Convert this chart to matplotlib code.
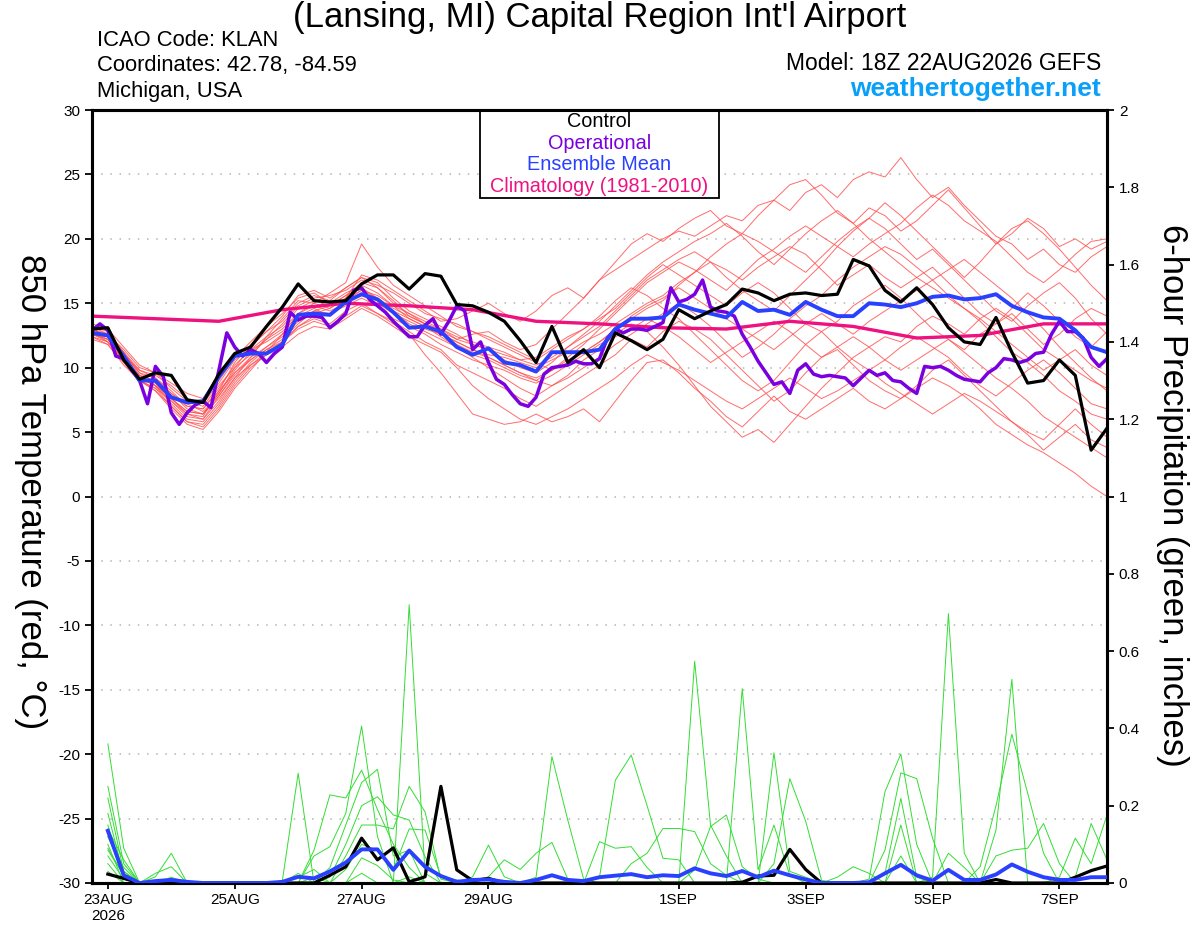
import numpy as np
import matplotlib
matplotlib.use("Agg")
import matplotlib.pyplot as plt
from matplotlib.patches import Rectangle

plt.rcParams['font.family'] = ['Liberation Sans', 'DejaVu Sans']
plt.rcParams['axes.unicode_minus'] = False

# ---- data (6-hourly temps from 22AUG 18Z, precip from 23AUG 00Z) ----
control_t = [13.0, 13.1, 10.6, 9.1, 9.6, 9.4, 7.5, 7.3, 9.5, 11.1, 11.6, 13.2, 14.7,
             16.5, 15.2, 15.1, 15.2, 16.5, 17.2, 17.2, 16.1, 17.3, 17.1, 14.9, 14.8, 14.3,
             13.6, 12.1, 10.4, 13.2, 10.4, 11.4, 10.0, 12.7, 12.1, 11.4, 12.2, 14.5, 13.8,
             14.4, 14.9, 16.1, 15.8, 15.2, 15.7, 15.8, 15.6, 15.7, 18.4, 17.9, 16.0, 15.1,
             16.2, 14.9, 13.1, 12.0, 11.8, 13.9, 11.2, 8.8, 9.0, 10.6, 9.4, 3.6, 5.3]

mean_t = [12.7, 12.5, 10.9, 9.0, 9.0, 7.7, 7.3, 7.4, 9.3, 10.9, 11.1, 11.1, 11.8,
          14.1, 14.2, 14.1, 15.1, 15.7, 15.3, 14.3, 13.1, 13.2, 12.8, 11.6, 11.0, 11.5,
          10.4, 10.2, 9.7, 11.2, 11.2, 11.2, 11.4, 13.0, 13.8, 13.8, 13.9, 14.9, 14.5,
          14.2, 13.9, 15.1, 14.4, 14.5, 14.1, 15.1, 14.5, 14.0, 14.0, 15.0, 14.9, 14.7,
          15.0, 15.5, 15.6, 15.3, 15.4, 15.7, 14.8, 14.3, 13.9, 13.8, 12.9, 11.6, 11.2]

# operational run, 3-hourly
oper_t = [12.9, 13.4, 12.9, 10.9, 10.7, 9.8, 9.0, 7.2, 10.1, 9.3, 6.5, 5.6, 6.5, 7.1, 7.4, 6.9,
          9.8, 12.7, 11.6, 10.9, 11.4, 11.1, 10.4, 11.1, 11.6, 14.3, 13.7, 14.0, 14.0, 13.9, 13.1, 13.6,
          14.2, 16.0, 16.2, 15.3, 14.8, 14.3, 13.6, 13.0, 12.4, 12.4, 13.3, 13.8, 12.6, 13.6, 14.8, 14.4,
          11.4, 12.0, 10.4, 9.1, 8.7, 7.9, 7.2, 7.0, 7.7, 9.5, 10.0, 10.1, 10.2, 10.5, 10.3, 10.3,
          10.7, 12.3, 13.0, 12.7, 13.0, 13.0, 12.9, 13.2, 13.5, 16.2, 15.1, 15.3, 15.7, 16.8, 14.7, 14.4,
          14.3, 14.0, 12.6, 11.6, 10.5, 9.6, 8.7, 8.9, 8.0, 9.8, 10.3, 9.5, 9.3, 9.4, 9.3, 9.2,
          8.6, 9.2, 9.8, 9.4, 9.6, 9.0, 8.9, 8.4, 8.0, 10.1, 10.0, 10.1, 9.8, 9.4, 9.1, 9.0,
          8.9, 9.6, 10.0, 10.7, 10.6, 10.4, 10.6, 11.1, 11.2, 12.6, 13.6, 12.8, 12.8, 12.3, 10.8, 10.1,
          10.7]

# climatology, daily
clim_t = [14.0, 13.8, 13.6, 14.5, 15.0, 14.8, 14.5, 13.6, 13.4, 13.1, 13.0, 13.6,
          13.2, 12.3, 12.5, 13.4, 13.4]

ens_t = [
    [13.0, 12.6, 11.0, 9.6, 9.2, 8.2, 7.0, 6.8, 8.4, 10.2, 11.4, 12.4, 13.2,
     14.6, 15.2, 14.8, 15.6, 16.6, 16.2, 15.2, 14.0, 13.4, 13.0, 12.2, 12.6, 12.8,
     12.0, 11.4, 11.8, 13.0, 14.2, 15.4, 16.8, 17.6, 18.4, 19.2, 20.0, 20.6, 20.2,
     21.0, 21.8, 21.4, 22.6, 23.0, 22.2, 23.6, 24.2, 23.2, 24.6, 25.2, 24.8, 26.3,
     24.6, 23.2, 24.0, 22.6, 21.4, 20.2, 19.6, 18.4, 19.2, 18.0, 17.4, 18.6, 19.4],
    [12.6, 12.2, 10.6, 9.2, 8.6, 7.4, 6.2, 6.0, 7.8, 9.6, 10.8, 11.6, 12.4,
     13.6, 14.2, 14.6, 15.4, 17.2, 16.8, 16.0, 15.2, 14.4, 13.6, 13.8, 14.4, 15.0,
     14.2, 13.6, 14.4, 15.6, 16.2, 15.4, 16.8, 18.2, 19.6, 20.4, 19.8, 20.8, 21.6,
     22.2, 21.0, 20.4, 21.8, 23.0, 24.2, 24.6, 23.4, 22.0, 21.2, 22.4, 21.8, 20.6,
     21.4, 22.6, 23.8, 22.4, 21.0, 19.6, 20.4, 21.6, 20.8, 19.4, 20.0, 19.2, 19.8],
    [12.8, 12.0, 10.4, 9.0, 8.4, 7.0, 5.8, 5.4, 6.8, 8.6, 10.0, 11.0, 12.0,
     13.2, 13.8, 13.4, 14.4, 15.0, 14.2, 13.6, 12.8, 12.0, 11.4, 10.2, 9.6, 9.0,
     8.4, 7.6, 7.0, 7.8, 8.6, 9.4, 10.2, 11.0, 12.2, 11.6, 12.8, 13.6, 13.0,
     12.2, 11.0, 9.8, 8.6, 7.4, 8.2, 9.6, 10.8, 11.4, 10.2, 9.0, 8.2, 7.6,
     8.4, 9.2, 8.6, 7.8, 6.8, 5.6, 4.8, 4.0, 3.4, 2.6, 1.8, 0.8, 0.0],
    [13.2, 12.8, 11.2, 9.8, 9.4, 8.6, 7.6, 7.2, 8.8, 10.6, 11.4, 12.0, 12.8,
     14.0, 14.6, 14.0, 15.2, 16.0, 15.6, 14.8, 13.8, 13.2, 12.4, 11.6, 10.8, 10.0,
     9.2, 8.4, 7.8, 8.6, 9.4, 10.6, 11.4, 12.6, 13.4, 12.8, 11.6, 10.2, 8.6,
     7.0, 5.8, 4.6, 5.2, 4.2, 5.6, 7.0, 8.4, 9.6, 10.8, 11.6, 12.4, 12.0,
     13.2, 14.0, 13.4, 12.6, 13.8, 14.6, 13.8, 12.6, 11.4, 10.6, 9.8, 9.0, 8.4],
    [12.4, 11.8, 10.2, 9.0, 8.2, 6.8, 5.6, 5.2, 6.6, 8.4, 9.8, 11.2, 12.6,
     14.2, 15.0, 15.8, 16.6, 19.6, 17.8, 16.4, 15.6, 14.8, 14.0, 13.2, 12.8, 12.2,
     11.6, 11.0, 10.4, 9.8, 10.4, 11.2, 12.0, 12.8, 13.8, 14.6, 15.2, 16.4, 17.4,
     18.2, 17.6, 16.8, 17.8, 18.6, 19.4, 18.8, 17.6, 16.4, 17.2, 18.0, 17.0, 16.2,
     17.0, 17.8, 16.6, 15.4, 14.2, 13.4, 14.6, 15.8, 14.8, 13.6, 12.4, 11.6, 12.8],
    [12.6, 12.4, 11.2, 9.4, 8.8, 7.6, 6.4, 6.2, 8.2, 10.4, 11.8, 12.8, 13.6,
     15.0, 15.6, 15.2, 16.2, 17.0, 16.6, 15.4, 14.4, 13.8, 13.2, 12.6, 11.8, 11.4,
     10.6, 10.0, 9.6, 10.4, 11.6, 12.4, 13.2, 14.4, 15.6, 16.8, 17.6, 18.4, 19.0,
     18.2, 17.0, 16.0, 15.2, 14.4, 15.6, 16.8, 18.0, 19.4, 20.6, 21.6, 22.8, 21.8,
     20.6, 19.4, 18.2, 17.0, 18.2, 19.6, 20.8, 21.4, 20.4, 19.2, 17.8, 16.4, 15.2],
    [13.0, 12.4, 10.8, 9.2, 8.6, 7.2, 6.0, 5.8, 7.2, 9.0, 10.4, 11.4, 12.0,
     13.0, 13.6, 13.2, 14.0, 14.8, 14.2, 13.4, 12.6, 11.0, 9.6, 8.0, 6.4, 6.0,
     5.6, 5.8, 6.4, 5.8, 6.2, 6.8, 5.8, 7.4, 9.0, 10.4, 10.6, 9.6, 8.4,
     7.4, 6.2, 5.4, 6.6, 7.8, 6.6, 6.0, 6.8, 7.6, 8.4, 7.4, 6.8, 7.6,
     8.6, 9.8, 10.6, 9.4, 8.2, 7.0, 5.8, 4.8, 3.6, 4.6, 5.6, 4.4, 3.8],
    [12.8, 12.6, 11.4, 10.0, 9.6, 8.8, 8.0, 7.6, 9.0, 10.8, 12.0, 13.2, 14.2,
     15.4, 15.8, 15.0, 15.8, 16.4, 15.8, 14.8, 14.2, 13.6, 13.0, 12.4, 12.0, 11.6,
     11.2, 10.6, 10.8, 11.6, 12.4, 13.0, 13.8, 14.6, 15.8, 17.0, 18.0, 17.2, 16.4,
     15.6, 14.8, 15.8, 16.6, 15.8, 14.6, 13.4, 12.8, 13.6, 14.8, 15.6, 16.4, 15.4,
     14.2, 13.0, 12.2, 11.4, 12.6, 13.4, 14.2, 13.0, 11.8, 12.6, 13.8, 14.6, 14.0],
    [12.4, 12.0, 10.6, 9.4, 9.0, 8.0, 7.2, 6.6, 7.8, 9.4, 10.6, 11.4, 12.2,
     13.4, 14.4, 14.8, 15.6, 16.2, 15.4, 14.6, 14.0, 13.4, 12.6, 11.8, 11.2, 10.8,
     10.2, 9.6, 9.0, 8.6, 9.2, 10.0, 10.8, 11.8, 12.6, 13.4, 14.2, 15.0, 14.2,
     13.2, 12.0, 10.8, 11.6, 12.6, 13.8, 14.8, 15.6, 16.8, 17.8, 18.6, 19.4, 18.8,
     17.8, 16.8, 15.6, 14.6, 13.6, 12.4, 11.2, 10.4, 9.4, 8.2, 7.4, 6.4, 6.0],
    [13.4, 13.0, 11.6, 10.2, 9.6, 8.4, 7.4, 7.0, 8.6, 10.0, 11.0, 12.2, 13.4,
     14.8, 15.4, 15.6, 16.0, 16.8, 16.4, 15.8, 15.0, 14.2, 13.8, 13.4, 12.8, 12.4,
     11.8, 11.2, 10.6, 11.4, 12.2, 13.0, 14.0, 15.2, 16.2, 15.6, 14.6, 13.8, 12.6,
     11.4, 10.2, 9.0, 8.2, 9.0, 10.4, 11.8, 12.8, 11.6, 10.6, 9.8, 10.6, 11.6,
     12.4, 11.6, 10.8, 9.6, 8.6, 7.8, 8.8, 9.8, 10.6, 9.6, 8.4, 7.2, 6.8],
    [12.6, 12.2, 10.8, 9.4, 8.6, 7.6, 6.6, 6.4, 8.0, 9.8, 11.2, 12.2, 13.0,
     14.2, 14.8, 14.4, 15.0, 15.6, 15.0, 14.2, 13.6, 13.0, 12.6, 12.0, 11.4, 11.0,
     10.8, 10.4, 10.0, 10.6, 11.2, 12.0, 12.6, 13.4, 14.2, 15.0, 15.6, 16.6, 17.4,
     18.6, 19.6, 20.4, 19.8, 19.0, 18.2, 17.4, 18.6, 19.8, 20.8, 21.6, 20.8, 19.6,
     18.4, 19.2, 18.0, 16.8, 15.6, 14.4, 13.6, 14.8, 15.8, 16.6, 15.4, 13.8, 12.6],
    [13.0, 12.4, 11.0, 9.8, 9.2, 8.0, 6.8, 6.4, 7.6, 9.2, 10.2, 11.2, 12.0,
     13.2, 14.0, 14.2, 14.8, 15.4, 14.8, 13.8, 13.2, 12.6, 11.8, 11.2, 10.6, 10.2,
     9.8, 9.2, 8.8, 9.4, 10.2, 11.0, 11.8, 12.4, 13.0, 13.8, 13.2, 12.4, 11.4,
     10.4, 11.2, 12.0, 12.8, 13.6, 12.8, 11.8, 10.8, 11.6, 12.4, 11.6, 10.6, 9.8,
     10.6, 11.4, 12.2, 11.2, 10.2, 9.2, 8.4, 7.4, 6.2, 5.4, 4.6, 3.8, 3.0],
    [12.2, 11.8, 10.4, 9.0, 8.4, 7.4, 6.4, 6.0, 7.4, 9.2, 10.8, 12.4, 13.8,
     15.2, 15.0, 14.6, 15.4, 16.0, 15.4, 14.4, 13.4, 12.8, 12.2, 11.6, 11.0, 10.6,
     10.0, 9.4, 9.0, 9.8, 10.8, 11.8, 13.0, 14.2, 15.4, 16.6, 17.4, 18.2, 17.6,
     16.8, 16.0, 17.2, 18.4, 19.2, 20.2, 21.0, 20.2, 19.4, 18.6, 19.6, 20.4, 21.2,
     22.4, 23.4, 22.6, 21.4, 20.6, 19.8, 18.6, 17.4, 16.6, 17.6, 18.8, 19.8, 20.0],
    [12.8, 12.2, 10.8, 9.2, 8.6, 7.8, 7.0, 6.8, 8.2, 9.6, 10.6, 11.6, 12.6,
     13.8, 14.4, 14.2, 15.0, 15.8, 15.2, 14.4, 13.8, 13.2, 12.6, 12.0, 11.4, 10.8,
     10.2, 9.6, 9.2, 9.8, 10.6, 11.2, 12.0, 13.0, 14.0, 14.8, 15.4, 16.2, 15.4,
     14.6, 13.8, 13.0, 12.2, 11.4, 12.4, 13.4, 14.2, 13.4, 12.6, 13.6, 14.4, 15.2,
     16.0, 16.8, 17.6, 18.4, 17.4, 16.4, 15.4, 14.2, 13.0, 11.6, 10.4, 9.2, 8.2],
    [13.2, 12.6, 11.2, 9.6, 8.8, 7.6, 6.6, 6.4, 8.0, 10.0, 11.6, 12.8, 14.0,
     15.6, 16.0, 15.4, 16.2, 17.0, 16.2, 15.0, 14.2, 13.4, 12.8, 12.2, 11.8, 11.4,
     11.0, 10.6, 10.2, 10.8, 11.6, 12.6, 13.6, 14.8, 16.0, 17.2, 18.2, 19.0, 19.8,
     20.4, 21.2, 20.2, 19.0, 18.0, 19.2, 20.4, 21.4, 22.2, 21.2, 20.0, 19.0, 18.0,
     17.0, 16.2, 15.4, 14.6, 13.8, 12.8, 11.8, 10.8, 9.8, 10.6, 11.4, 10.2, 9.4],
    [12.6, 12.0, 10.6, 9.0, 8.2, 7.0, 5.8, 5.6, 7.0, 8.8, 10.2, 11.0, 11.6,
     12.6, 13.2, 13.0, 13.8, 14.6, 14.0, 13.2, 12.4, 11.8, 11.2, 10.0, 8.6, 7.6,
     6.8, 6.0, 5.6, 6.2, 6.8, 7.6, 8.4, 9.2, 10.2, 11.0, 10.4, 9.8, 9.0,
     8.2, 7.4, 6.8, 7.6, 8.4, 9.2, 8.4, 7.6, 8.2, 9.0, 9.8, 8.8, 8.0,
     7.2, 6.4, 7.2, 8.0, 7.4, 6.6, 5.8, 5.0, 4.4, 5.6, 6.8, 5.6, 4.6],
]

control_p = [0.023, 0.012, 0, 0, 0, 0, 0, 0, 0, 0, 0, 0, 0, 0, 0.02, 0.042,
             0.116, 0.06, 0.091, 0.003, 0.016, 0.25, 0.034, 0.006, 0.012, 0, 0, 0, 0, 0, 0, 0,
             0, 0, 0, 0, 0, 0, 0, 0, 0.002, 0.018, 0.02, 0.087, 0.035, 0, 0, 0,
             0, 0, 0, 0, 0, 0, 0, 0, 0.009, 0, 0, 0, 0, 0.015, 0.032, 0.044]

mean_p = [0.135, 0.02, 0, 0.005, 0.008, 0.003, 0, 0, 0, 0, 0, 0.003, 0.016, 0.012, 0.03, 0.053,
          0.087, 0.087, 0.034, 0.084, 0.042, 0.018, 0.003, 0.008, 0.009, 0.003, 0, 0.008, 0.02, 0.008, 0.005, 0.015,
          0.019, 0.023, 0.015, 0.02, 0.018, 0.038, 0.025, 0.018, 0.031, 0.015, 0.032, 0.02, 0.009, 0, 0, 0,
          0.002, 0.025, 0.047, 0.02, 0.006, 0.034, 0.008, 0.008, 0.022, 0.048, 0.029, 0.015, 0.008, 0.008, 0.015, 0.015]

ens_p = [
    [0.36, 0.09, 0, 0, 0, 0, 0, 0, 0, 0, 0, 0, 0, 0, 0, 0.035,
     0.10, 0.085, 0.035, 0.14, 0.137, 0.016, 0.008, 0, 0, 0, 0, 0, 0, 0, 0, 0,
     0, 0, 0, 0, 0, 0, 0, 0, 0, 0, 0, 0, 0, 0, 0, 0,
     0, 0, 0, 0, 0, 0, 0, 0.042, 0.2, 0.385, 0.232, 0.077, 0, 0, 0, 0],
    [0.25, 0.05, 0, 0, 0, 0, 0, 0, 0, 0, 0, 0, 0, 0.085, 0.228, 0.22,
     0.292, 0.19, 0.10, 0.04, 0, 0, 0, 0, 0, 0, 0, 0, 0, 0, 0, 0,
     0, 0, 0, 0, 0, 0, 0, 0, 0, 0, 0, 0, 0, 0, 0, 0,
     0.01, 0.236, 0.334, 0.1, 0, 0, 0, 0, 0, 0, 0, 0, 0, 0, 0, 0],
    [0.22, 0.03, 0, 0.016, 0.077, 0, 0, 0, 0, 0, 0, 0, 0, 0, 0, 0,
     0, 0, 0, 0, 0, 0, 0, 0, 0.016, 0.06, 0.035, 0.077, 0.105, 0.01, 0, 0,
     0, 0, 0, 0, 0, 0, 0, 0, 0.503, 0.034, 0.15, 0.02, 0, 0, 0, 0,
     0, 0, 0, 0, 0, 0, 0, 0, 0, 0, 0, 0, 0, 0, 0, 0],
    [0.18, 0.02, 0, 0, 0, 0, 0, 0, 0, 0, 0, 0.005, 0.284, 0, 0, 0,
     0, 0, 0, 0.72, 0.025, 0, 0, 0, 0, 0, 0, 0, 0, 0, 0, 0,
     0, 0, 0, 0, 0, 0, 0, 0, 0, 0, 0, 0, 0, 0, 0, 0,
     0, 0, 0.15, 0, 0, 0, 0, 0, 0.07, 0.085, 0.09, 0.154, 0.05, 0, 0, 0],
    [0.15, 0.01, 0, 0, 0, 0, 0, 0, 0, 0, 0, 0, 0, 0.07, 0.094, 0.18,
     0.406, 0.12, 0, 0, 0, 0, 0, 0, 0, 0, 0, 0, 0, 0, 0, 0,
     0, 0, 0, 0, 0, 0.034, 0.146, 0.176, 0.042, 0.01, 0, 0, 0, 0, 0, 0,
     0, 0, 0, 0, 0, 0, 0, 0, 0, 0, 0, 0, 0, 0, 0, 0],
    [0.12, 0.04, 0, 0, 0, 0, 0, 0, 0, 0, 0, 0, 0, 0, 0.015, 0.10,
     0.20, 0.223, 0.176, 0.163, 0.068, 0, 0, 0, 0, 0, 0, 0, 0, 0, 0, 0,
     0, 0, 0, 0, 0, 0, 0, 0, 0, 0, 0, 0, 0, 0, 0, 0,
     0, 0, 0, 0, 0.015, 0.697, 0.077, 0, 0, 0, 0, 0, 0, 0, 0, 0],
    [0.10, 0, 0, 0.025, 0.042, 0, 0, 0, 0, 0, 0, 0, 0, 0, 0, 0,
     0, 0, 0, 0, 0, 0, 0, 0, 0, 0, 0, 0.015, 0.327, 0.163, 0.01, 0,
     0, 0, 0, 0, 0, 0, 0, 0, 0, 0, 0, 0, 0, 0, 0, 0,
     0, 0.085, 0.285, 0.27, 0.116, 0, 0, 0, 0, 0, 0, 0, 0, 0, 0, 0],
    [0.085, 0.02, 0, 0, 0, 0, 0, 0, 0, 0, 0, 0, 0.025, 0, 0, 0,
     0, 0, 0, 0, 0, 0, 0, 0.016, 0.098, 0.016, 0, 0, 0, 0, 0, 0,
     0, 0, 0, 0, 0, 0, 0, 0, 0, 0, 0.337, 0.03, 0.015, 0, 0, 0,
     0, 0, 0, 0, 0, 0, 0, 0, 0, 0, 0, 0, 0, 0, 0, 0],
    [0.07, 0.01, 0, 0, 0.015, 0, 0, 0, 0, 0, 0, 0, 0, 0, 0, 0,
     0.025, 0, 0, 0.016, 0, 0, 0, 0, 0, 0, 0, 0, 0, 0, 0, 0,
     0, 0, 0, 0, 0, 0.574, 0.15, 0.07, 0, 0, 0, 0, 0, 0, 0, 0,
     0, 0, 0, 0, 0, 0, 0, 0, 0.137, 0.527, 0, 0, 0, 0, 0, 0],
    [0.05, 0, 0, 0, 0, 0, 0, 0, 0, 0, 0, 0, 0.015, 0.035, 0, 0,
     0, 0, 0, 0, 0, 0, 0, 0, 0, 0, 0, 0, 0, 0, 0, 0.107,
     0.09, 0.094, 0.04, 0, 0, 0, 0, 0, 0, 0, 0, 0, 0, 0, 0.015, 0.042,
     0.025, 0, 0, 0, 0, 0, 0, 0, 0, 0, 0, 0, 0, 0.015, 0.154, 0.06],
    [0.03, 0, 0, 0, 0, 0, 0, 0, 0, 0, 0, 0, 0, 0, 0.04, 0.15,
     0.26, 0.294, 0.07, 0.085, 0, 0, 0, 0, 0, 0, 0, 0, 0, 0, 0, 0,
     0, 0, 0, 0, 0, 0, 0, 0, 0, 0, 0.05, 0.27, 0.16, 0.007, 0, 0,
     0, 0, 0, 0, 0, 0, 0, 0, 0, 0, 0, 0, 0, 0, 0, 0],
    [0.12, 0.03, 0, 0, 0, 0, 0, 0, 0, 0, 0, 0, 0, 0.015, 0, 0,
     0, 0, 0, 0, 0, 0, 0, 0, 0, 0, 0, 0, 0, 0, 0, 0.015,
     0.266, 0.331, 0.2, 0.064, 0.06, 0, 0, 0, 0, 0, 0, 0, 0, 0, 0, 0,
     0, 0.025, 0.219, 0.015, 0, 0, 0, 0, 0, 0, 0, 0, 0, 0, 0, 0],
    [0.14, 0.06, 0, 0, 0, 0, 0, 0, 0, 0, 0, 0, 0, 0, 0, 0.07,
     0.15, 0.15, 0.14, 0.25, 0.184, 0.01, 0, 0, 0, 0, 0, 0, 0, 0, 0, 0,
     0, 0, 0, 0, 0, 0, 0, 0, 0, 0, 0, 0, 0, 0, 0, 0,
     0, 0, 0.07, 0, 0, 0, 0, 0, 0, 0, 0, 0, 0.015, 0.116, 0.05, 0.176],
    [0.09, 0.02, 0, 0, 0, 0, 0, 0, 0, 0, 0, 0, 0, 0, 0, 0,
     0.065, 0.045, 0.008, 0, 0, 0, 0, 0, 0, 0, 0, 0, 0, 0, 0, 0,
     0, 0.05, 0.077, 0.141, 0.141, 0.133, 0.05, 0.02, 0, 0, 0, 0, 0, 0, 0, 0,
     0, 0, 0, 0, 0, 0.077, 0.04, 0, 0, 0, 0, 0, 0, 0, 0, 0],
]

tick_dates = ['2026-08-23', '2026-08-25', '2026-08-27', '2026-08-29',
              '2026-09-01', '2026-09-03', '2026-09-05', '2026-09-07']
tick_labels = ['23AUG\n2026', '25AUG', '27AUG', '29AUG', '1SEP', '3SEP', '5SEP', '7SEP']

# ---- time axes ----
h6 = np.timedelta64(6, 'h')
t_temp = np.datetime64('2026-08-22T18:00') + h6 * np.arange(len(control_t))
t_oper = np.datetime64('2026-08-22T18:00') + np.timedelta64(3, 'h') * np.arange(len(oper_t))
t_clim = np.datetime64('2026-08-22T18:00') + np.timedelta64(24, 'h') * np.arange(len(clim_t))
t_prec = np.datetime64('2026-08-23T00:00') + h6 * np.arange(len(control_p))

fig = plt.figure(figsize=(12, 9.27), dpi=100)
ax = fig.add_axes([92 / 1200, 1 - 883 / 927, 1015 / 1200, 773 / 927])
ax2 = ax.twinx()

for y in range(-25, 30, 5):
    ax.axhline(y, color='#b4b4b4', lw=1.1, ls=(0, (1, 5)), zorder=0)

for m in ens_t:
    ax.plot(t_temp, m, color='#ff5252', lw=0.7, alpha=0.85, zorder=1)
ax.plot(t_clim, clim_t, color='#ee1180', lw=2.4, zorder=2)
ax.plot(t_oper, oper_t, color='#7a00e0', lw=2.5, zorder=3)
ax.plot(t_temp, mean_t, color='#2a40ff', lw=2.8, zorder=4)
ax.plot(t_temp, control_t, color='black', lw=2.3, zorder=5)

for m in ens_p:
    ax2.plot(t_prec, m, color='#33dd33', lw=0.7, zorder=1)
ax2.plot(t_prec, control_p, color='black', lw=2.3, zorder=3)
ax2.plot(t_prec, mean_p, color='#2a40ff', lw=2.8, zorder=4)

ax.set_xlim(np.datetime64('2026-08-22T18:00'), np.datetime64('2026-09-07T18:00'))
ax.set_ylim(-30, 30)
ax2.set_ylim(0, 2)
ax.set_yticks(range(-30, 31, 5))
ax2.set_yticks(np.arange(0, 2.01, 0.2))
ax2.set_yticklabels(['0', '0.2', '0.4', '0.6', '0.8', '1', '1.2', '1.4', '1.6', '1.8', '2'])
ax.set_xticks([np.datetime64(d + 'T00:00') for d in tick_dates])
ax.set_xticklabels(tick_labels)

for a in (ax, ax2):
    for s in a.spines.values():
        s.set_linewidth(2.2)
    a.tick_params(labelsize=11, width=1.3, length=5, direction='out')
ax.tick_params(axis='x', length=4, pad=3)

# axis titles (read top to bottom)
fig.text(30 / 1200, 1 - 492 / 927, '850 hPa Temperature (red, °C)', fontsize=25,
         rotation=270, ha='center', va='center')
fig.text(1172 / 1200, 1 - 495 / 927, '6-hour Precipitation (green, inches)', fontsize=25,
         rotation=270, ha='center', va='center')

# legend box
ax.add_patch(Rectangle((0.382, 0.886), 0.2355, 0.114, transform=ax.transAxes,
                       facecolor='white', edgecolor='black', lw=1.3, zorder=10))
leg_items = [('Control', 'black'), ('Operational', '#7a00e0'),
             ('Ensemble Mean', '#2a40ff'), ('Climatology (1981-2010)', '#ee1180')]
for n, (txt, col) in enumerate(leg_items):
    ax.text(0.5, 0.9845 - n * 0.0277, txt, color=col, fontsize=14.3, ha='center',
            va='center', transform=ax.transAxes, zorder=11)

fig.text(0.5, 1 - 18 / 927, "(Lansing, MI) Capital Region Int'l Airport", fontsize=25,
         ha='center', va='center')
for n, txt in enumerate(['ICAO Code: KLAN', 'Coordinates: 42.78, -84.59', 'Michigan, USA']):
    fig.text(97 / 1200, 1 - (40 + 26 * n) / 927, txt, fontsize=15.8, ha='left', va='center')
fig.text(1101 / 1200, 1 - 64 / 927, 'Model: 18Z 22AUG2026 GEFS', fontsize=16.5,
         ha='right', va='center')
fig.text(1101 / 1200, 1 - 89 / 927, 'weathertogether.net', fontsize=19, ha='right',
         va='center', color='#0aa0f8', fontweight='bold')

fig.savefig('out.png', dpi=100)
